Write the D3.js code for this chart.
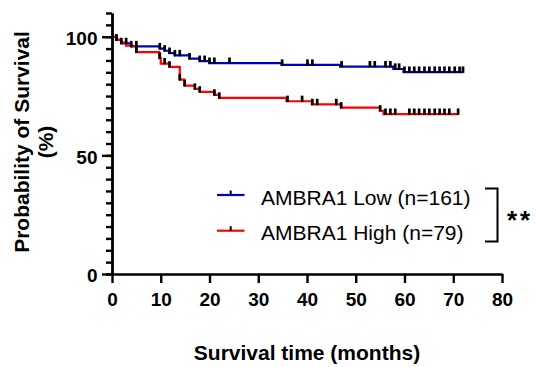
<!DOCTYPE html>
<html><head><meta charset="utf-8">
<script src="https://cdn.jsdelivr.net/npm/d3@7"></script>
<style>
html,body{margin:0;padding:0;background:#fff;}
svg{display:block;}
text{font-family:"Liberation Sans",Arial,sans-serif;}
</style></head>
<body>
<svg id="chart" width="536" height="367"></svg>
<script>
// ---- data ----
const lowSteps = [[0,100],[0.9,98.7],[1.9,97.2],[3.9,95.9],[9.8,95.0],[10.8,94.1],[11.8,93.1],[12.9,92.1],[15.9,90.8],[18.0,89.7],[20.0,88.9],[34.8,88.1],[46.8,87.4],[57.7,86.4],[59.8,85.1]];
const lowEnd = 72.0;
const lowCensor = [0.9,1.9,2.9,3.95,5.0,9.8,10.8,11.8,12.9,13.9,15.9,18.0,19.0,20.0,21.0,24.1,34.9,40.1,41.1,47.1,52.9,53.9,56.1,57.1,58.1,58.9,60.0,61.0,62.0,63.0,64.1,65.1,66.2,67.2,68.2,69.2,70.3,71.3,72.0];
const highSteps = [[0,100],[0.9,98.7],[1.9,97.5],[2.9,96.2],[5.0,93.5],[9.7,91.0],[10.0,88.7],[11.8,87.3],[13.9,81.9],[14.9,79.4],[17.0,78.0],[18.0,76.8],[21.0,75.5],[22.0,74.2],[35.8,72.8],[41.0,71.5],[47.0,70.1],[55.0,68.8],[55.7,67.4]];
const highEnd = 71.0;
const highCensor = [0.9,5.0,9.8,10.8,11.8,13.9,14.9,17.0,18.0,21.0,22.0,36.0,39.0,41.1,42.1,46.0,47.0,55.0,56.1,57.1,58.1,61.0,62.0,63.0,64.1,65.1,66.2,67.2,68.2,69.2,71.0];
const xTicks = [0,10,20,30,40,50,60,70,80];
const yMajor = [0,50,100];
const yMinor = d3.range(0,111,5);
const seriesNames = ["AMBRA1 Low (n=161)","AMBRA1 High (n=79)"];
const seriesColors = ["#0000c4","#ff0000"];

// ---- layout ----
const svg = d3.select("#chart");
const x = d3.scaleLinear().domain([0,80]).range([112,502]);
const y = d3.scaleLinear().domain([0,110]).range([274,13]);

function survAt(steps,t){let v=steps[0][1];for(const s of steps){if(s[0]<=t)v=s[1];}return v;}

const line = d3.line().x(d=>x(d[0])).y(d=>y(d[1])).curve(d3.curveStepAfter);
const series = [
  {steps:lowSteps,end:lowEnd,cens:lowCensor,color:seriesColors[0]},
  {steps:highSteps,end:highEnd,cens:highCensor,color:seriesColors[1]}
];
series.forEach(s=>{
  const pts = s.steps.concat([[s.end, s.steps[s.steps.length-1][1]]]);
  svg.append("path").attr("d",line(pts)).attr("fill","none")
    .attr("stroke",s.color).attr("stroke-width",2.2);
});
series.forEach(s=>{
  svg.append("g").selectAll("line").data(s.cens).join("line")
    .attr("x1",d=>x(d)).attr("x2",d=>x(d))
    .attr("y1",d=>y(survAt(s.steps,d))+0.8).attr("y2",d=>y(survAt(s.steps,d))-5.6)
    .attr("stroke","#000").attr("stroke-width",2.7);
});

// axes
const gx = svg.append("g").attr("transform","translate(0,274)")
  .call(d3.axisBottom(x).tickValues(xTicks).tickSize(9).tickSizeOuter(0).tickPadding(10));
const gyMin = svg.append("g").attr("transform","translate(112,0)")
  .call(d3.axisLeft(y).tickValues(yMinor).tickSize(6).tickSizeOuter(0).tickFormat(""));
const gy = svg.append("g").attr("transform","translate(112,0)")
  .call(d3.axisLeft(y).tickValues(yMajor).tickSize(10).tickSizeOuter(0).tickPadding(4.5));
[gx,gyMin,gy].forEach(g=>{
  g.selectAll("path,line").attr("stroke","#000").attr("stroke-width",2.4);
  g.selectAll("text").attr("fill","#000").style("font-family","'Liberation Sans',Arial,sans-serif")
   .style("font-size","19px").style("font-weight","bold");
});
gy.selectAll("text").attr("dy","0.41em");

// axis titles
svg.append("text").attr("x",307).attr("y",360).attr("text-anchor","middle")
  .style("font-size","21px").style("font-weight","bold").text("Survival time (months)");
const yt = svg.append("text").attr("transform","translate(0,142) rotate(-90)")
  .attr("text-anchor","middle").style("font-size","21px").style("font-weight","bold");
yt.append("tspan").attr("x",0).attr("y",29).text("Probability of Survival");
yt.append("tspan").attr("x",0).attr("y",53).text("(%)");

// legend
const legY = [195,230.7];
seriesNames.forEach((n,i)=>{
  const g = svg.append("g");
  g.append("line").attr("x1",217).attr("x2",244.5).attr("y1",legY[i]).attr("y2",legY[i])
    .attr("stroke",seriesColors[i]).attr("stroke-width",2.2);
  g.append("line").attr("x1",230.7).attr("x2",230.7).attr("y1",legY[i]).attr("y2",legY[i]-4.5)
    .attr("stroke","#000").attr("stroke-width",2);
  g.append("text").attr("x",261).attr("y",legY[i]+9.5).style("font-size","21px").text(n);
});

// significance bracket
svg.append("path").attr("d","M485,188.5H497.5V241.5H485").attr("fill","none")
  .attr("stroke","#000").attr("stroke-width",2);
svg.append("text").attr("x",507).attr("y",229).style("font-size","26px").style("font-weight","bold")
  .style("letter-spacing","3px").text("**");
</script>
</body></html>
